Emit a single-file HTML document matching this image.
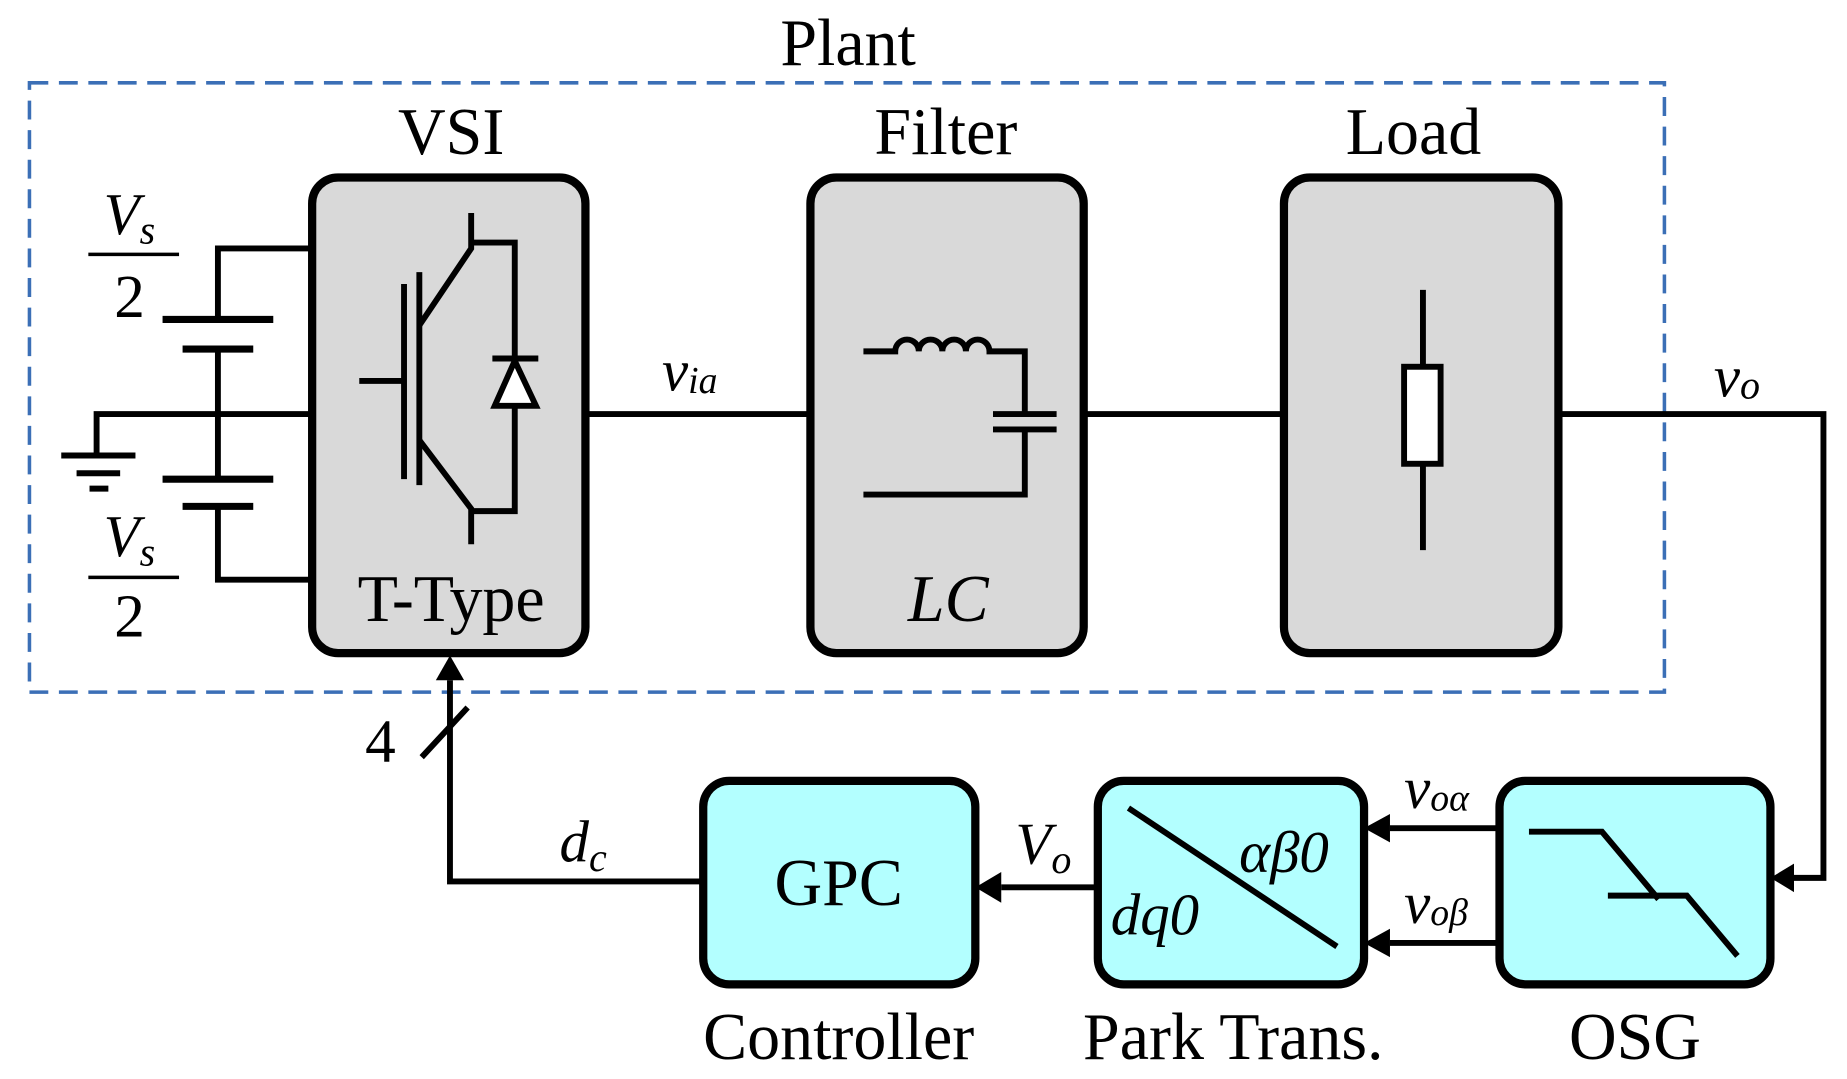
<!DOCTYPE html>
<html><head><meta charset="utf-8"><style>html,body{margin:0;padding:0;background:#fff;}svg{display:block}</style></head>
<body>
<svg width="1847" height="1079" viewBox="0 0 1568 912" preserveAspectRatio="none" xmlns="http://www.w3.org/2000/svg" font-family="Liberation Serif, serif">
<rect width="1568" height="912" fill="#fff"/>
<text x="720" y="55" font-size="56" text-anchor="middle">Plant</text>
<rect x="25" y="70" width="1388" height="515" fill="none" stroke="#3b6fb6" stroke-width="3" stroke-dasharray="16,9"/>
<g font-size="56" text-anchor="middle">
<text x="383" y="130">VSI</text><text x="803" y="130">Filter</text><text x="1200" y="130">Load</text>
</g>
<g stroke="#000" stroke-width="7" fill="#d9d9d9">
<rect x="265" y="150" width="232" height="402" rx="22"/>
<rect x="688" y="150" width="232" height="402" rx="22"/>
<rect x="1090" y="150" width="233" height="402" rx="22"/>
</g>
<g stroke="#000" stroke-width="7" fill="#b3ffff">
<rect x="597" y="660" width="231" height="172" rx="22"/>
<rect x="932" y="660" width="226" height="172" rx="22"/>
<rect x="1273" y="660" width="230" height="172" rx="22"/>
</g>
<g font-size="56" text-anchor="middle">
<text x="712" y="895">Controller</text><text x="1047" y="895">Park Trans.</text><text x="1388" y="895">OSG</text>
<text x="383" y="525">T-Type</text><text x="805" y="525" font-style="italic">LC</text>
<text x="712" y="765">GPC</text>
</g>
<g stroke="#000" stroke-width="5" fill="none">
<line x1="497" y1="350" x2="688" y2="350"/>
<line x1="920" y1="350" x2="1090" y2="350"/>
<polyline points="1323,350 1548,350 1548,742 1520,742"/>
<line x1="1273" y1="700" x2="1180" y2="700"/>
<line x1="1273" y1="797" x2="1180" y2="797"/>
<line x1="932" y1="750" x2="850" y2="750"/>
<polyline points="597,745 382,745 382,575"/>
<line x1="358" y1="640" x2="397" y2="598"/>
<polyline points="265,210 185,210 185,270"/>
<line x1="185" y1="295" x2="185" y2="405"/>
<polyline points="185,428 185,490 265,490"/>
<polyline points="265,350 82,350 82,385"/>
<line x1="52" y1="385" x2="115" y2="385"/>
<line x1="65" y1="400" x2="102" y2="400"/>
<line x1="76" y1="413" x2="92" y2="413"/>
<line x1="138" y1="270" x2="232" y2="270" stroke-width="6"/>
<line x1="155" y1="295" x2="215" y2="295" stroke-width="6"/>
<line x1="138" y1="405" x2="232" y2="405" stroke-width="6"/>
<line x1="155" y1="428" x2="215" y2="428" stroke-width="6"/>
<line x1="75" y1="215" x2="152" y2="215" stroke-width="3"/>
<line x1="75" y1="488" x2="152" y2="488" stroke-width="3"/>
<line x1="305" y1="322" x2="343" y2="322"/>
<line x1="343" y1="240" x2="343" y2="405"/>
<line x1="356" y1="230" x2="356" y2="410"/>
<polyline points="356,275 400,210 400,180"/>
<polyline points="400,205 437,205 437,432 400,432"/>
<polyline points="356,372 400,430 400,460"/>
<polygon points="420,343 455,343 437,305" fill="#fff"/>
<line x1="418" y1="303" x2="457" y2="303"/>
<path d="M733,297 L760,297 a10,10 0 0 1 20,0 a10,10 0 0 1 20,0 a10,10 0 0 1 20,0 a10,10 0 0 1 20,0 L870,297 L870,350"/>
<line x1="843" y1="350" x2="897" y2="350"/>
<line x1="843" y1="363" x2="897" y2="363"/>
<polyline points="870,363 870,418 733,418"/>
<line x1="1208" y1="245" x2="1208" y2="310"/>
<line x1="1208" y1="392" x2="1208" y2="465"/>
<rect x="1192" y="310" width="31" height="82" fill="#fff"/>
<line x1="958" y1="683" x2="1135" y2="800"/>
<polyline points="1298,703 1360,703 1408,760"/>
<polyline points="1365,757 1432,757 1475,808"/>
</g>
<g fill="#000">
<polygon points="1503,742 1523,730 1523,754"/>
<polygon points="1158,700 1180,688 1180,712"/>
<polygon points="1158,797 1180,785 1180,809"/>
<polygon points="828,750 850,737 850,763"/>
<polygon points="382,554 370,575 394,575"/>
</g>
<g font-size="50" font-style="italic">
<text x="88" y="198">V<tspan font-size="34" dy="8">s</tspan></text>
<text x="88" y="470">V<tspan font-size="34" dy="8">s</tspan></text>
<text x="562" y="330">v<tspan font-size="32" dy="2">ia</tspan></text>
<text x="1455" y="335">v<tspan font-size="34" dy="2">o</tspan></text>
<text x="1192" y="683">v<tspan font-size="32" dy="2">oα</tspan></text>
<text x="1192" y="780">v<tspan font-size="32" dy="2">oβ</tspan></text>
<text x="862" y="730">V<tspan font-size="34" dy="8">o</tspan></text>
<text x="475" y="728">d<tspan font-size="34" dy="8">c</tspan></text>
<text x="1052" y="737">αβ0</text>
<text x="943" y="790">dq0</text>
</g>
<g font-size="52">
<text x="110" y="268" text-anchor="middle">2</text>
<text x="110" y="538" text-anchor="middle">2</text>
<text x="310" y="644">4</text>
</g>
</svg>
</body></html>
